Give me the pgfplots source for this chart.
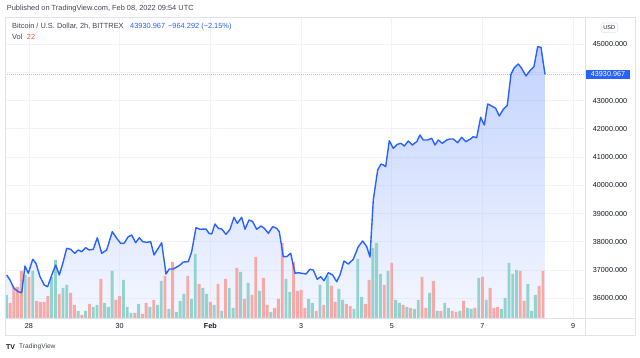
\documentclass[border=0pt]{standalone}
\usepackage{pgfplots}
\pgfplotsset{compat=1.18}
\usepackage{pgfplotstable}
\usepackage{fontspec}
\setmainfont{Liberation Sans}
\definecolor{tvblue}{HTML}{2962FF}
\definecolor{tvteal}{HTML}{93D2CD}
\definecolor{tvred}{HTML}{F7A9A8}
\definecolor{tvgrid}{HTML}{F0F3FA}
\definecolor{tvborder}{HTML}{E0E3EB}
\definecolor{tvtext}{HTML}{131722}
\definecolor{tvgray}{HTML}{434651}
\definecolor{tvvolred}{HTML}{EF5350}

\pgfplotstableread{
d p
-0.492 36825
-0.419 36648
-0.331 36354
-0.236 36234
-0.161 36198
-0.088 37143
-0.015 36885
0.082 37381
0.154 37239
0.243 36765
0.337 36471
0.412 36411
0.501 36825
0.589 37179
0.668 36825
0.756 37296
0.831 37770
0.920 37735
1.008 37593
1.087 37710
1.162 37650
1.250 37791
1.330 37710
1.418 37735
1.506 38145
1.603 37593
1.713 37710
1.837 38358
1.934 38124
2.022 37947
2.095 37947
2.190 38181
2.265 38241
2.353 37968
2.432 38145
2.507 38004
2.595 37982
2.684 38004
2.756 37533
2.851 37770
2.926 37968
3.021 36860
3.094 37037
3.182 37037
3.270 37119
3.330 37179
3.402 37285
3.513 37296
3.587 37650
3.682 38499
3.770 38443
3.903 38453
3.969 38301
4.029 38276
4.101 38630
4.174 38478
4.249 38453
4.344 38265
4.432 38443
4.520 38867
4.593 38655
4.690 38867
4.763 38443
4.851 38772
4.933 38712
5.021 38443
5.116 38559
5.189 38478
5.277 38301
5.374 38535
5.462 38478
5.519 38358
5.608 37473
5.682 37473
5.771 37593
5.866 36885
5.938 36906
6.108 36860
6.196 37027
6.269 37002
6.357 36673
6.432 36765
6.505 36623
6.600 36906
6.697 36825
6.785 36588
6.858 36825
6.946 37320
7.041 37214
7.151 37381
7.261 37827
7.358 38028
7.447 37827
7.519 37460
7.592 39480
7.689 40542
7.762 40754
7.813 40719
7.866 40658
7.945 41579
8.033 41310
8.121 41451
8.203 41487
8.276 41391
8.364 41568
8.452 41427
8.549 41543
8.622 41781
8.695 41604
8.792 41604
8.880 41664
8.953 41427
9.026 41604
9.114 41487
9.211 41604
9.283 41639
9.356 41639
9.453 41508
9.541 41699
9.630 41543
9.724 41628
9.797 41720
9.872 41685
9.960 42407
10.040 42135
10.115 42878
10.203 42807
10.291 42726
10.370 42453
10.459 42690
10.547 42832
10.628 43929
10.701 44163
10.789 44294
10.864 44142
10.959 43869
11.047 44057
11.135 44198
11.217 44906
11.290 44885
11.378 43930.967
}\pricedata

\begin{document}
\begin{tikzpicture}[x=1pt,y=1pt]
\path[use as bounding box, fill=white] (0,0) rectangle (640,358);
\pgfplotsset{tvbase/.style={scale only axis, width=580.7pt, height=301pt,
  at={(5pt,40pt)}, anchor=south west, xmin=-0.529, xmax=12.276,
  ymin=35303, ymax=45958, scaled ticks=false}}

% price axis: grid, labels, area fill
\begin{axis}[tvbase,
  axis line style={draw=none},
  grid=major, major grid style={tvgrid, line width=0.8pt},
  xtick={0,2,4,6,8,10,12}, xticklabels={28,30,\textbf{Feb},3,5,7,9},
  ytick={36000,37000,38000,39000,40000,41000,42000,43000,44000,45000},
  yticklabels={36000.000,37000.000,38000.000,39000.000,40000.000,41000.000,42000.000,43000.000,,45000.000},
  yticklabel pos=right,
  major tick length=0pt,
  tick label style={font=\fontsize{7.2}{8}\selectfont, text=tvtext},
  xticklabel style={anchor=center, yshift=-8pt},
  yticklabel style={anchor=center, xshift=24.3pt},
]
\addplot[draw=none, fill opacity=0.28, top color=tvblue, bottom color=tvblue!18!white]
  table {\pricedata} |- (axis cs:-0.492,35303) -- cycle;
\end{axis}

% volume axis (bar index, height in pane pixels)
\begin{axis}[scale only axis, width=580.7pt, height=301pt,
  at={(5pt,40pt)}, anchor=south west,
  xmin=-0.35, xmax=153.31, ymin=0, ymax=301, hide axis]
\addplot[ybar, bar width=2.9pt, bar shift=0pt, draw=none, fill=tvteal] coordinates {
(0,23) (5,43) (7,47) (12,41) (13,58) (15,30) (16,33) (19,7) (21,7) (23,11)
(24,13) (26,15) (27,11) (28,47) (31,38) (32,11) (33,5) (35,14) (38,11) (40,13)
(41,37) (43,9) (45,6) (46,17) (47,24) (49,19) (50,64) (52,30) (53,24) (55,13)
(57,7) (59,30) (60,10) (62,46) (64,35) (67,27) (70,6) (74,39) (75,26) (80,19)
(81,15) (83,33) (85,42) (88,29) (89,18) (92,9) (93,59) (94,21) (97,70) (98,75)
(99,44) (101,47) (103,18) (104,15) (106,11) (108,9) (109,18) (112,25) (114,7) (116,15)
(117,10) (120,7) (122,10) (123,9) (125,40) (127,18) (131,9) (132,20) (133,55) (134,44)
(135,48) (138,34) (139,7) (140,23)
};
\addplot[ybar, bar width=2.9pt, bar shift=0pt, draw=none, fill=tvred] coordinates {
(1,15) (2,31) (3,31) (4,47) (6,41) (8,17) (9,16) (10,16) (11,22) (14,24)
(17,25) (18,13) (20,3) (22,14) (25,39) (29,18) (30,22) (34,5) (36,4) (37,15)
(39,18) (42,42) (44,56) (48,42) (51,34) (54,16) (56,34) (58,39) (61,50) (63,19)
(65,23) (66,61) (68,40) (69,13) (71,10) (72,19) (73,75) (76,56) (77,27) (78,28)
(79,10) (82,7) (84,13) (86,32) (87,16) (90,14) (91,12) (95,14) (96,38) (100,33)
(102,55) (105,13) (107,10) (110,41) (111,10) (113,37) (115,7) (118,7) (119,6) (121,17)
(124,10) (126,41) (128,30) (129,10) (130,11) (136,47) (137,17) (141,32) (142,47)
};
\end{axis}

% price line on top
\begin{axis}[tvbase, hide axis]
\addplot[tvblue!40, line width=0.7pt, dash pattern=on 0.7pt off 1.3pt]
  coordinates {(-0.529,43930.967) (12.276,43930.967)};
\addplot[tvblue, line width=1.4pt, line join=round] table {\pricedata};
\end{axis}

% frame
\draw[tvborder, line width=0.8pt] (5,23) rectangle (635,341);
\draw[tvborder, line width=0.8pt] (5,40) -- (635,40);
\draw[tvborder, line width=0.8pt] (585.7,23) -- (585.7,341);

% last price label
\fill[tvblue] (585.7,279) rectangle (630,288.3);
\node[text=white, font=\fontsize{7.2}{8}\selectfont, inner sep=0pt] at (608,283.6) {43930.967};

% USD box
\draw[tvborder, rounded corners=1.5pt, line width=0.6pt] (601,325.7) rectangle (617.7,335);
\node[text=tvtext, font=\fontsize{5.6}{6}\selectfont, inner sep=0pt] at (609.3,330.3) {USD};

% header texts
\node[anchor=base west, inner sep=0pt, text=tvgray, font=\fontsize{7.4}{8}\selectfont] at (6.7,347.3)
  {Published on TradingView.com, Feb 08, 2022 09:54 UTC};
\node[anchor=base west, inner sep=0pt, text=tvgray, font=\fontsize{7.4}{8}\selectfont] at (12,329.7)
  {Bitcoin / U.S. Dollar, 2h, BITTREX};
\node[anchor=base west, inner sep=0pt, text=tvblue, font=\fontsize{7.4}{8}\selectfont] at (130,329.7)
  {43930.967\hspace{3pt}\textminus964.292 (\textminus2.15\%)};
\node[anchor=base west, inner sep=0pt, text=tvgray, font=\fontsize{7.4}{8}\selectfont] at (12,318.7) {Vol};
\node[anchor=base west, inner sep=0pt, text=tvvolred, font=\fontsize{7.4}{8}\selectfont] at (26.7,318.7) {22};

% footer
\node[anchor=west, inner sep=0pt, text=tvtext, font=\bfseries\fontsize{7}{8}\selectfont] at (6,11.3) {TV};
\node[anchor=west, inner sep=0pt, text=tvgray, font=\fontsize{6.6}{8}\selectfont] at (19,11.3) {TradingView};
\end{tikzpicture}
\end{document}
